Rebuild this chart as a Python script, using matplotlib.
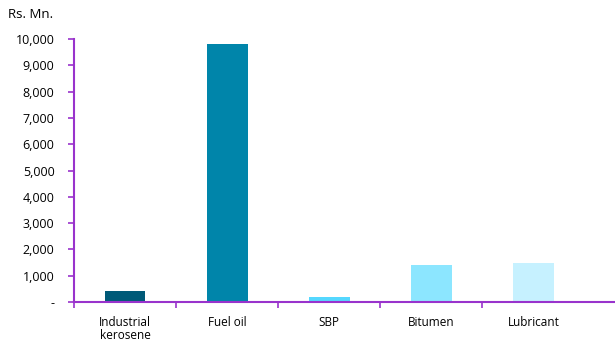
import matplotlib
matplotlib.use("Agg")
import matplotlib.pyplot as plt
from matplotlib.ticker import FuncFormatter

categories = ["Industrial\nkerosene", "Fuel oil", "SBP", "Bitumen", "Lubricant"]
values = [430, 9800, 200, 1400, 1500]
colors = ["#005A78", "#0085AA", "#55D8FF", "#8CE6FF", "#C6F1FF"]
yticks = list(range(0, 10001, 1000))

axis_col = "#9933CC"
plt.rcParams["font.family"] = ["Open Sans", "DejaVu Sans"]

fig = plt.figure(figsize=(6.15, 3.43), dpi=100)
ax = fig.add_axes([74 / 615, 1 - 302 / 343, 1 - 74 / 615, (302 - 39) / 343])

x = list(range(len(categories)))
ax.bar(x, values, width=0.4, color=colors, zorder=2)

ax.set_ylim(0, 10000)
ax.set_xlim(-0.5, 4.8)
ax.set_yticks(yticks)
ax.yaxis.set_major_formatter(FuncFormatter(lambda v, p: "-" if v == 0 else f"{int(v):,}"))
# tick marks sit between categories
ax.set_xticks([i - 0.5 for i in range(len(categories))])
ax.set_xticklabels([])
ax.set_xticks(x, minor=True)
ax.set_xticklabels(categories, minor=True, fontsize=8.5)
ax.tick_params(axis="x", which="minor", length=0, pad=10)
ax.tick_params(axis="x", which="major", length=4, color=axis_col, width=1.2)
ax.tick_params(axis="y", length=4, color=axis_col, width=1.2, labelsize=9, pad=10)
for lab in ax.get_xticklabels(minor=True):
    lab.set_linespacing(1.0)

for s in ["top", "right"]:
    ax.spines[s].set_visible(False)
for s in ["left", "bottom"]:
    ax.spines[s].set_color(axis_col)
    ax.spines[s].set_linewidth(1.5)

fig.text(8 / 615, 1 - 14 / 343, "Rs. Mn.", fontsize=9.5, va="center", ha="left")

fig.savefig("out.png", dpi=100)
